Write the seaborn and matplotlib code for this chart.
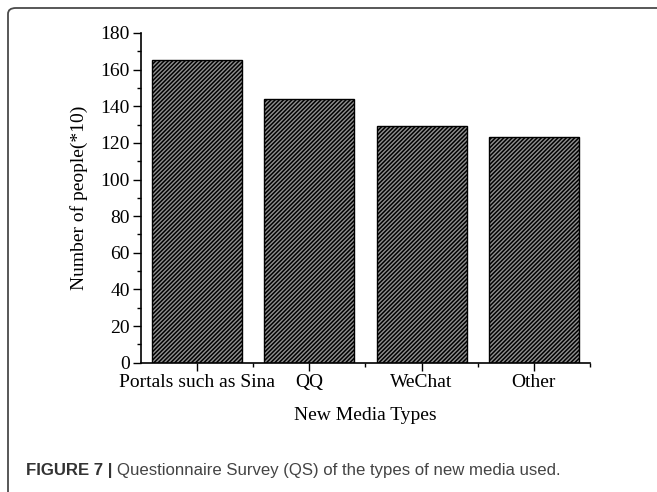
import matplotlib
matplotlib.use("Agg")
import matplotlib.pyplot as plt
import seaborn as sns
from matplotlib.patches import FancyBboxPatch
from matplotlib.ticker import MultipleLocator, FixedLocator

# =========================
# Data
# =========================
media_types = ["Portals such as Sina", "QQ", "WeChat", "Other"]
people_x10 = [165, 144, 129, 123]

y_ticks = [0, 20, 40, 60, 80, 100, 120, 140, 160, 180]

x_label = "New Media Types"
y_label = "Number of people(*10)"
caption_bold = "FIGURE 7 | "
caption_text = "Questionnaire Survey (QS) of the types of new media used."


def main():
    sns.set_theme(style="ticks")
    plt.rcParams["font.family"] = ["Liberation Serif", "DejaVu Serif"]
    plt.rcParams["hatch.linewidth"] = 1.1
    plt.rcParams["hatch.color"] = "black"

    fig = plt.figure(figsize=(6.57, 4.92), dpi=100)
    ax = fig.add_axes([0.2146, 0.2628, 0.6834, 0.6702])

    sns.barplot(x=media_types, y=people_x10, color="#8c8c8c", width=0.8,
                edgecolor="black", linewidth=1.0, saturation=1, ax=ax)
    for bar in ax.patches:
        bar.set_hatch("////////")
        bar.set_facecolor("#909090")
        bar.set_edgecolor("black")

    ax.set_xlim(-0.5, len(media_types) - 0.5)
    ax.set_ylim(0, 180)
    ax.set_yticks(y_ticks)
    ax.yaxis.set_minor_locator(MultipleLocator(10))
    ax.xaxis.set_minor_locator(FixedLocator([0.5, 1.5, 2.5, 3.5]))

    ax.tick_params(axis="both", which="major", direction="out", length=6,
                   width=1, labelsize=14, color="black", labelcolor="black", pad=2)
    ax.tick_params(axis="both", which="minor", direction="out", length=3,
                   width=1, color="black")

    for side in ["top", "right"]:
        ax.spines[side].set_visible(False)
    for side in ["left", "bottom"]:
        ax.spines[side].set_linewidth(1.2)
        ax.spines[side].set_color("black")

    ax.set_xlabel(x_label, fontsize=14, color="black", labelpad=12)
    ax.set_ylabel(y_label, fontsize=14, color="black", labelpad=9)

    # frame around the whole figure (open at right/bottom like the page crop)
    frame = FancyBboxPatch((8 / 657, -0.1), 1.2, 1.1 - 8 / 492,
                           boxstyle="round,pad=0,rounding_size=0.012",
                           transform=fig.transFigure, fill=False,
                           edgecolor="#4a4a4a", linewidth=1.3, clip_on=False)
    fig.patches.append(frame)

    # caption
    t1 = fig.text(26 / 657, 1 - 470 / 492, caption_bold, fontsize=12.1,
                  fontweight="bold", color="#333333", va="center",
                  family=["Liberation Sans", "DejaVu Sans"])
    ax.annotate(caption_text, xy=(1, 0), xycoords=t1, va="bottom",
                fontsize=12.1, color="#444444",
                family=["Liberation Sans", "DejaVu Sans"],
                annotation_clip=False)

    fig.savefig("out.png", dpi=100)
    plt.close(fig)


if __name__ == "__main__":
    main()
